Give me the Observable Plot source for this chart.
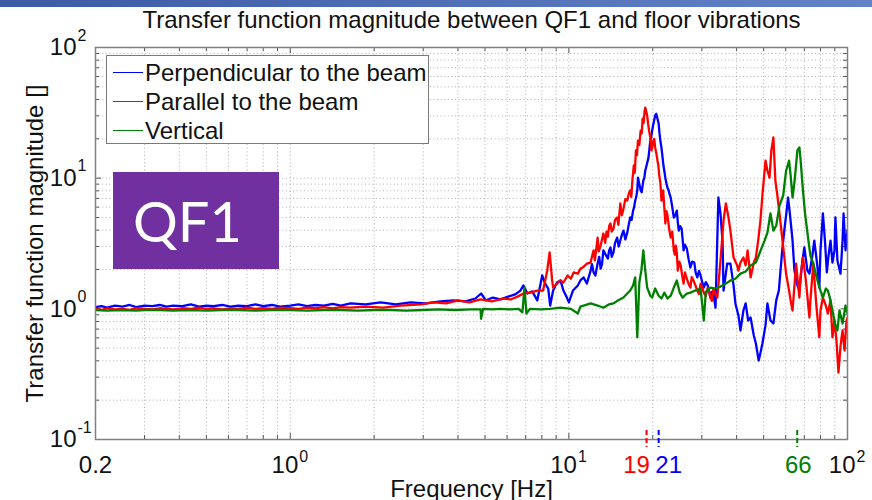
<!DOCTYPE html>
<html><head><meta charset="utf-8">
<script src="https://cdn.jsdelivr.net/npm/d3@7"></script>
<script src="https://cdn.jsdelivr.net/npm/@observablehq/plot@0.6"></script>
<style>
body{margin:0;background:#fff;font-family:"Liberation Sans",Arial,sans-serif;}
#wrap{position:relative;width:872px;height:500px;overflow:hidden;}
#chart{position:absolute;left:0;top:0;}
#bar{position:absolute;left:0;top:0;width:872px;height:7px;background:linear-gradient(to right,#3d5aa5,#6383c6);}
#legend{position:absolute;left:106px;top:55px;width:321px;height:87px;background:#fff;border:1px solid #7a7a7a;}
.row{position:absolute;left:0;height:29px;display:flex;align-items:center;font-size:24px;color:#111;white-space:nowrap;}
.sw{width:30px;height:0;border-top:1.5px solid;margin-left:6px;margin-right:2px;}
#qf1{position:absolute;left:113px;top:172px;width:166px;height:97px;background:#7030A0;color:#fff;font-family:Lato,"Open Sans",sans-serif;font-size:56px;display:flex;align-items:center;padding-left:20px;box-sizing:border-box;}
</style></head>
<body>
<div id="wrap">
  <div id="chart"></div>
  <div id="bar"></div>
  <div id="legend"></div>
  <div id="qf1">QF1</div>
</div>
<script>
// ---- data (frequency Hz, magnitude) ----
const seriesNames = ["Perpendicular to the beam", "Parallel to the beam", "Vertical"];
const seriesColors = ["#0000ff", "#ff0000", "#008000"];

const perpendicular = [
[0.2,1.03],[0.21,1.05],[0.22,1.02],[0.235,1.06],[0.25,1.04],[0.265,1.07],[0.28,1.03],[0.3,1.06],[0.32,1.05],[0.34,1.07],
[0.36,1.04],[0.38,1.06],[0.41,1.05],[0.44,1.08],[0.47,1.04],[0.5,1.06],[0.53,1.05],[0.57,1.07],[0.61,1.04],[0.65,1.06],
[0.7,1.05],[0.75,1.08],[0.8,1.05],[0.86,1.07],[0.92,1.04],[1.0,1.06],[1.07,1.08],[1.15,1.05],[1.23,1.07],[1.32,1.06],
[1.42,1.09],[1.52,1.06],[1.645,1.10],[1.862,1.08],[2.11,1.12],[2.39,1.08],[2.70,1.12],[3.06,1.10],[3.46,1.14],[3.85,1.16],
[4.25,1.14],[4.62,1.20],[4.84,1.31],[5.04,1.16],[5.34,1.22],[5.68,1.18],[6.06,1.24],[6.42,1.29],[6.70,1.38],[6.87,1.51],
[7.10,1.31],[7.39,1.36],[7.70,1.16],[8.02,1.80],[8.22,1.56],[8.43,1.43],[8.57,1.06],[8.78,1.38],[9.07,1.59],[9.33,1.65],
[9.56,1.38],[9.80,1.24],[10.0,1.12],[10.34,1.38],[10.77,1.51],[11.0,1.65],[11.3,1.74],[11.6,1.56],
[11.97,1.96],[12.1,2.2],[12.27,1.90],[12.45,1.8],[12.68,2.22],[12.85,2.5],[13.0,2.03],[13.15,2.2],[13.3,2.80],[13.55,2.6],
[13.8,2.43],[13.95,2.8],[14.1,2.95],[14.25,2.5],[14.45,2.70],[14.65,3.2],[14.9,3.51],[15.1,3.0],[15.3,3.33],[15.5,3.7],
[15.7,3.97],[15.95,3.4],[16.2,3.83],[16.4,4.4],[16.6,5.0],[16.8,4.8],[17.0,5.65],[17.15,6.0],[17.3,6.74],[17.45,7.2],
[17.6,8.07],[17.7,10.1],[17.9,9.0],[18.1,8.07],[18.25,7.8],[18.4,8.8],[18.5,9.6],[18.65,10.0],[18.8,11.4],[19.05,12.8],
[19.3,14.3],[19.45,16.5],[19.6,19.4],[19.75,20.5],[19.9,23.1],[20.1,26.0],[20.3,28.6],[20.45,30.5],[20.6,31.1],
[21.0,26.1],[21.15,22.0],[21.3,19.4],[21.5,17.0],[21.7,14.3],[21.85,12.5],[22.0,11.4],[22.2,10.0],[22.4,9.1],[22.6,8.4],
[22.8,8.07],[23.0,7.5],[23.2,7.11],[23.5,6.0],[23.8,5.0],[24.1,5.2],[24.4,5.65],[24.6,4.6],[24.8,3.97],[25.1,4.3],
[25.4,4.1],[25.6,3.4],[25.8,2.80],[26.1,3.1],[26.5,2.9],[26.9,2.4],[27.3,2.07],[27.7,2.3],[28.2,2.26],[28.5,1.9],
[28.9,1.74],[29.3,1.95],[29.7,1.80],[30.1,1.6],[30.5,1.455],[31.0,1.6],[31.5,1.51],[31.9,1.35],[32.2,1.22],[32.6,1.35],
[33.0,1.31],[33.3,1.15],[33.6,1.02],
[34.4,7.11],[35.0,5.37],[35.6,3.33],[35.9,1.38],
[37.0,2.22],[38.0,2.22],[39.0,1.51],[39.6,1.10],[40.6,0.89],[41.3,0.683],[42.3,0.971],[43.1,1.10],[44.0,0.814],[44.9,0.858],
[46.1,0.625],[46.9,0.543],[48.0,0.402],[48.7,0.46],[49.5,0.543],[50.8,0.75],[51.6,1.10],[52.9,0.814],[54.2,0.772],[55.5,1.16],
[56.7,1.38],[58.3,2.80],[59.3,3.97],[60.2,5.2],[61.2,7.11],[62.2,5.2],[63.5,3.33],[64.5,1.96],[66.1,1.51],[67.2,1.38],
[68.9,2.34],[70.0,2.95],[71.8,1.96],[73.0,1.86],[74.8,2.56],[76.0,3.33],[77.9,2.15],[79.2,1.455],[80.0,2.80],[81.6,5.37],
[83.0,3.33],[84.3,1.9],[85.5,2.56],[86.9,3.33],[88.3,2.26],[89.8,2.80],[90.5,5.0],[92.0,2.34],[94.4,1.86],[96.0,3.33],
[96.8,5.37],[98.4,2.80],[100,3.97]
];

const parallel = [
[0.2,1.0],[0.21,0.98],[0.22,1.01],[0.235,0.99],[0.25,1.0],[0.265,0.98],[0.28,1.01],[0.3,1.0],[0.32,0.99],[0.34,1.01],
[0.36,1.0],[0.38,0.99],[0.41,1.01],[0.44,1.0],[0.47,1.02],[0.5,1.0],[0.53,1.01],[0.57,0.99],[0.61,1.01],[0.65,1.0],
[0.7,1.02],[0.75,1.0],[0.8,1.01],[0.86,1.0],[0.92,1.02],[1.0,1.01],[1.07,1.0],[1.15,1.02],[1.23,1.01],[1.32,1.03],
[1.42,1.01],[1.52,1.03],[1.645,1.02],[1.862,1.04],[2.16,1.02],[2.49,1.06],[2.95,1.08],[3.27,1.12],[3.63,1.10],[4.0,1.16],
[4.4,1.12],[4.82,1.18],[5.3,1.14],[5.85,1.20],[6.18,1.18],[6.54,1.24],[6.87,1.31],[7.25,1.33],[7.70,1.38],[8.08,1.38],
[8.36,1.96],[8.53,2.70],[8.71,1.65],[8.78,1.455],[9.07,1.56],[9.33,1.65],[9.56,1.59],[9.9,1.80],[10.17,1.70],[10.4,1.90],
[10.77,1.86],[11.0,2.03],[11.3,2.1],[11.6,2.22],
[11.97,2.26],[12.1,2.5],[12.27,2.80],[12.4,2.35],[12.55,2.9],[12.68,3.51],[12.8,2.75],[13.0,3.05],[13.15,3.4],[13.3,3.77],
[13.5,3.2],[13.65,3.9],[13.8,3.57],[13.95,4.3],[14.1,4.50],[14.25,3.9],[14.45,4.1],[14.65,4.8],[14.9,5.0],[15.05,4.4],
[15.3,6.40],[15.5,5.2],[15.7,5.83],[15.95,6.9],[16.2,6.74],[16.4,7.6],[16.6,8.07],[16.75,7.2],[16.9,9.58],[17.1,12.5],
[17.25,11.0],[17.4,16.3],[17.55,15.0],[17.7,19.4],[17.9,18.0],[18.1,23.1],[18.25,22.0],[18.4,28.6],[18.55,26.5],[18.7,32.8],
[18.8,34.7],[19.1,30.1],[19.25,26.0],[19.4,23.1],[19.6,20.5],[19.8,16.3],[19.95,17.5],[20.1,19.4],[20.25,20.0],[20.4,17.2],
[20.6,15.5],[20.8,13.6],[20.95,12.5],[21.1,10.5],[21.3,9.2],[21.5,6.74],[21.65,7.6],[21.8,8.07],[22.0,6.0],[22.2,4.50],
[22.4,5.6],[22.6,5.2],[22.9,4.1],[23.2,3.51],[23.5,3.9],[23.8,2.80],[24.0,2.6],[24.2,3.05],[24.4,2.7],[24.6,1.96],
[24.9,2.3],[25.2,2.15],[25.5,1.8],[25.8,1.56],[26.1,1.9],[26.5,1.70],[26.9,1.55],[27.3,1.455],[27.6,1.75],[28.0,1.65],
[28.5,1.5],[28.9,1.38],[29.3,1.3],[29.7,1.56],[30.1,1.45],[30.5,1.33],[31.0,1.25],[31.5,1.455],[31.9,1.35],[32.2,1.22],
[32.6,1.15],[33.0,1.43],[33.5,1.3],[34.1,1.22],
[35.0,2.34],[35.9,4.74],[36.6,6.40],[37.4,5.0],[38.0,3.97],[39.0,2.47],[40.2,2.15],[40.6,1.96],
[41.3,2.26],[42.3,2.47],[43.1,2.15],[43.8,2.80],[44.9,1.74],[46.1,2.26],[46.9,2.47],[47.8,3.33],[48.7,4.74],[49.5,7.4],
[50.8,13.6],[51.6,11.4],[52.5,10.1],[53.3,16.3],[54.2,20.5],[55.1,9.58],[56.0,7.4],[57.0,5.37],[58.8,2.95],[60.2,1.86],
[61.7,1.38],[62.5,1.16],[63.5,0.971],[65.4,2.22],[67.2,1.22],[67.9,1.80],[69.2,2.47],[70.9,1.65],[73.0,0.858],[73.6,1.16],
[75.4,2.22],[77.2,1.10],[79.2,0.606],[80.0,0.971],[81.6,1.22],[83.6,1.06],[85.0,0.92],[86.9,1.16],[88.3,0.606],[89.8,0.814],
[91.3,0.57],[92.8,0.325],[94.4,0.52],[96.0,0.683],[97.6,0.48],[99.2,0.814],[100,0.858]
];

const vertical = [
[0.2,0.98],[0.22,0.97],[0.25,0.98],[0.28,0.97],[0.3,0.98],[0.34,0.98],[0.38,0.97],[0.44,0.98],[0.5,0.97],[0.57,0.98],
[0.65,0.98],[0.75,0.97],[0.86,0.98],[1.0,0.98],[1.15,0.97],[1.32,0.98],[1.52,0.98],[1.75,0.97],[2.0,0.98],[2.3,0.98],
[2.6,0.97],[3.0,0.98],[3.4,0.99],[3.9,0.98],[4.44,0.99],[4.82,0.99],[4.84,0.84],[4.92,1.0],[5.3,0.99],[5.68,1.0],
[6.18,0.99],[6.6,1.0],[6.81,0.94],[6.93,1.46],[7.04,0.92],[7.25,1.0],[7.91,0.99],[8.57,1.0],[9.33,1.02],[10.17,1.0],
[10.77,0.92],[11.0,1.04],[11.97,1.10],[12.68,1.06],[13.3,1.02],[13.9,1.08],[14.45,1.10],[15.0,1.16],[15.7,1.22],[16.2,1.31],
[16.6,1.38],[17.0,1.51],[17.3,1.74],[17.6,0.606],[17.9,1.59],[18.2,1.96],[18.5,2.80],[18.8,1.96],[19.1,1.455],[19.6,1.26],
[19.9,1.22],[20.4,1.43],[21.0,1.26],[21.5,1.2],[22.0,1.33],[22.6,1.2],[23.2,1.26],[23.8,1.455],[24.4,1.646],[25.0,1.33],
[25.6,1.22],[26.5,1.31],[27.3,1.33],[28.4,1.38],[29.7,1.43],[30.5,0.814],[31.0,1.35],[32.2,1.455],[33.6,1.43],[35.0,1.48],
[36.6,1.56],[38.0,1.646],[39.6,1.70],[41.3,1.86],[43.1,1.93],[44.9,2.15],[46.9,2.26],[48.0,2.56],[49.1,2.90],[50.4,3.33],
[51.6,3.83],[52.9,5.37],[54.2,3.97],[55.5,4.34],[57.0,6.17],[58.8,7.4],[60.2,11.4],[61.7,13.6],[62.5,10.5],[63.5,7.11],
[64.6,9.58],[66.1,16.3],[67.2,17.2],[67.9,13.6],[69.2,8.07],[70.4,5.37],[72.4,3.33],[73.6,2.56],[75.4,2.22],[77.2,1.80],
[78.6,1.56],[80.0,1.38],[81.6,1.22],[83.6,1.43],[85.0,1.38],[86.9,1.16],[88.3,0.971],[90.5,0.75],[92.0,0.683],[93.6,0.971],
[96.0,0.772],[98.4,1.06],[100,0.92]
];

// peak markers under the axis
const peakFreqs = [19, 21, 66];
const peakLabels = ["19", "21", "66"];
const peakColors = ["#ff0000", "#0000ff", "#008000"];
const peakShift = [-10, 10, 1];

// axis tick labels
const xPlainTicks = [0.2];
const xPlainLabels = ["0.2"];
const xPowTicks = [1, 10, 100];
const xPowExps = ["0", "1", "2"];
const yPowTicks = [0.1, 1, 10, 100];
const yPowExps = ["-1", "0", "1", "2"];

const title = "Transfer function magnitude between QF1 and floor vibrations";
const xLabel = "Frequency [Hz]";
const yLabel = "Transfer function magnitude []";

// ---- build ----
const toRows = (arr, name) => arr.map(([f, v]) => ({f, v, name}));
const rows = [
  ...toRows(perpendicular, seriesNames[0]),
  ...toRows(parallel, seriesNames[1]),
  ...toRows(vertical, seriesNames[2])
];
const decadeMult = [1,2,3,4,5,6,7,8,9];
const gridX = [0.1, 1, 10].flatMap(d => decadeMult.map(k => +(k*d).toPrecision(3))).filter(v => v >= 0.2).concat([100]);
const gridY = [0.1, 1, 10].flatMap(d => decadeMult.map(k => +(k*d).toPrecision(3))).concat([100]);
const majorX = [1, 10, 100], majorY = [0.1, 1, 10, 100];
const pxY = Math.pow(10, 1/130.7), pxX = Math.pow(10, 1/278.6);

const gridStyle = {stroke: "#9a9a9a", strokeOpacity: 0.8, strokeDasharray: "1,2.6", strokeWidth: 1};
const tickStyle = {stroke: "#555", strokeWidth: 1};

const plot = Plot.plot({
  width: 872, height: 500,
  marginLeft: 95, marginRight: 25, marginTop: 47, marginBottom: 61,
  x: {type: "log", domain: [0.2, 100], axis: null},
  y: {type: "log", domain: [0.1, 100], axis: null},
  color: {domain: seriesNames, range: seriesColors},
  style: {fontFamily: "'Liberation Sans', Arial, sans-serif", fontSize: "24px", background: "transparent", overflow: "visible", color: "#111"},
  marks: [
    Plot.ruleX(gridX.filter(v => v > 0.2 && v < 100), {x: d => d, ...gridStyle}),
    Plot.ruleY(gridY.filter(v => v > 0.1 && v < 100), {y: d => d, ...gridStyle}),
    // inward ticks
    Plot.ruleX(gridX, {x: d => d, y1: 0.1, y2: d => 0.1 * Math.pow(pxY, majorX.includes(d) ? 6 : 4), ...tickStyle}),
    Plot.ruleX(gridX, {x: d => d, y1: 100, y2: d => 100 / Math.pow(pxY, majorX.includes(d) ? 6 : 4), ...tickStyle}),
    Plot.ruleY(gridY, {y: d => d, x1: 0.2, x2: d => 0.2 * Math.pow(pxX, majorY.includes(d) ? 6 : 4), ...tickStyle}),
    Plot.ruleY(gridY, {y: d => d, x1: 100, x2: d => 100 / Math.pow(pxX, majorY.includes(d) ? 6 : 4), ...tickStyle}),
    Plot.line(rows, {x: "f", y: "v", z: "name", stroke: "name", strokeWidth: 2.3, strokeLinejoin: "round", clip: true}),
    Plot.frame({stroke: "#808080", strokeWidth: 1.5}),
    // peak markers
    Plot.ruleX(peakFreqs, {x: d => d, y1: 0.117, y2: 0.087, stroke: (d, i) => peakColors[i], strokeWidth: 2, strokeDasharray: "5,3"}),
    ...peakFreqs.map((f, i) => Plot.text([f], {x: d => d, text: () => peakLabels[i], fill: peakColors[i], frameAnchor: "bottom", dy: 33, dx: peakShift[i], textAnchor: "middle", lineAnchor: "bottom", fontSize: 24})),
    // x tick labels
    Plot.text(xPlainTicks, {x: d => d, text: (d, i) => xPlainLabels[i], frameAnchor: "bottom", dy: 33, textAnchor: "middle", lineAnchor: "bottom", fontSize: 24}),
    Plot.text(xPowTicks, {x: d => d, text: () => "10", frameAnchor: "bottom", dy: 33, dx: 8, textAnchor: "end", lineAnchor: "bottom", fontSize: 24}),
    Plot.text(xPowTicks, {x: d => d, text: (d, i) => xPowExps[i], frameAnchor: "bottom", dy: 22, dx: 9, textAnchor: "start", lineAnchor: "bottom", fontSize: 16}),
    // y tick labels
    Plot.text(yPowTicks, {y: d => d, text: () => "10", frameAnchor: "left", dx: -19, textAnchor: "end", lineAnchor: "middle", fontSize: 24}),
    Plot.text(yPowTicks, {y: d => d, text: (d, i) => yPowExps[i], frameAnchor: "left", dx: -18, dy: -7, textAnchor: "start", lineAnchor: "bottom", fontSize: 16}),
    // titles
    Plot.text([title], {text: d => d, frameAnchor: "top", dy: -20, textAnchor: "middle", lineAnchor: "bottom", fontSize: 24}),
    Plot.text([xLabel], {text: d => d, frameAnchor: "bottom", dy: 57, textAnchor: "middle", lineAnchor: "bottom", fontSize: 24}),
    Plot.text([yLabel], {text: d => d, frameAnchor: "left", dx: -53, rotate: -90, textAnchor: "middle", lineAnchor: "bottom", fontSize: 24})
  ]
});
document.getElementById("chart").appendChild(plot);

// legend
const leg = document.getElementById("legend");
seriesNames.forEach((n, i) => {
  const r = document.createElement("div");
  r.className = "row";
  r.style.top = (2 + i * 29) + "px";
  const sw = document.createElement("span");
  sw.className = "sw";
  sw.style.borderTopColor = seriesColors[i];
  const t = document.createElement("span");
  t.textContent = n;
  r.appendChild(sw); r.appendChild(t);
  leg.appendChild(r);
});
</script>
</body></html>
